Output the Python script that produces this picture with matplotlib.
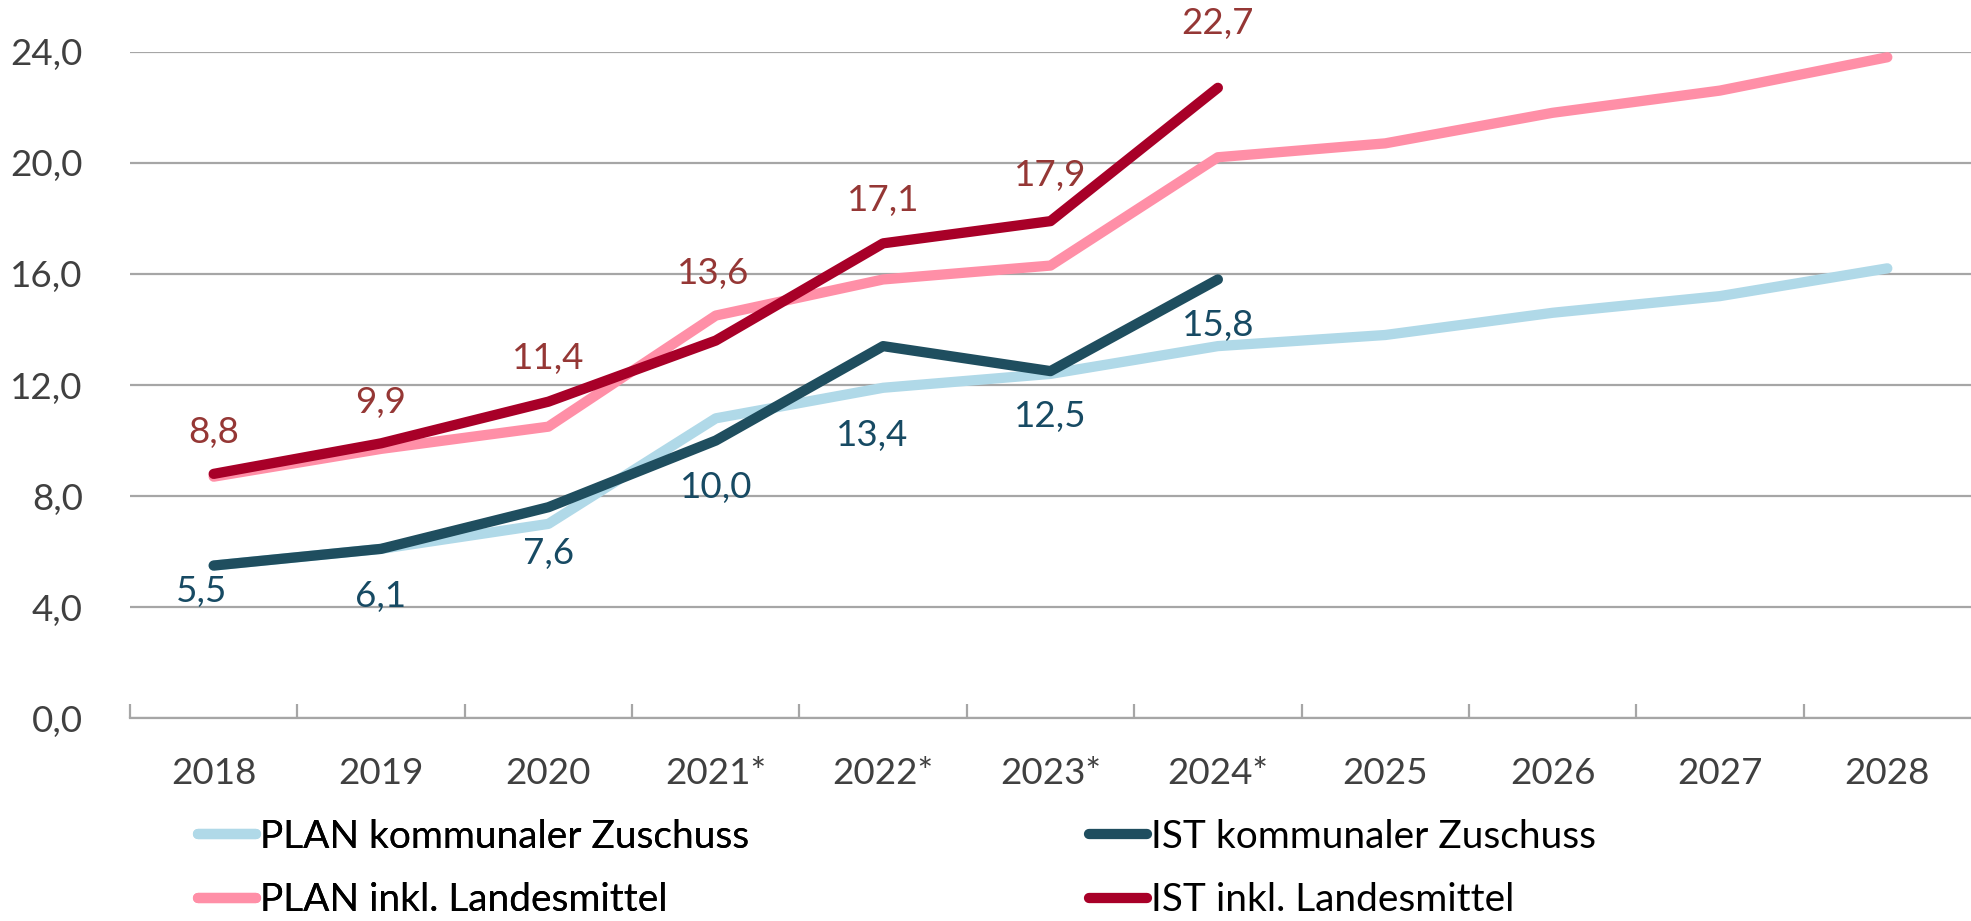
import matplotlib
matplotlib.use("Agg")
import matplotlib.pyplot as plt
from matplotlib.lines import Line2D

# ---------------- data ----------------
years = ["2018", "2019", "2020", "2021*", "2022*", "2023*", "2024*", "2025", "2026", "2027", "2028"]
plan_kommunal = [5.5, 6.1, 7.0, 10.8, 11.9, 12.4, 13.4, 13.8, 14.6, 15.2, 16.2]
plan_landes = [8.7, 9.7, 10.5, 14.5, 15.8, 16.3, 20.2, 20.7, 21.8, 22.6, 23.8]
ist_kommunal = [5.5, 6.1, 7.6, 10.0, 13.4, 12.5, 15.8]
ist_landes = [8.8, 9.9, 11.4, 13.6, 17.1, 17.9, 22.7]
yticks = [0, 4, 8, 12, 16, 20, 24]

series_names = ["PLAN kommunaler Zuschuss", "PLAN inkl. Landesmittel",
                "IST kommunaler Zuschuss", "IST inkl. Landesmittel"]

# ---------------- styles ----------------
C_PLAN_K = "#b0d9e8"
C_PLAN_L = "#ff8fa7"
C_IST_K = "#1f4e5f"
C_IST_L = "#a80028"
C_LAB_RED = "#953735"
C_LAB_BLUE = "#174a63"
FONT = "Lato"
LW = 7.4

# label offsets in points (dx, dy)
red_off = [(0, 30), (0, 29.5), (0, 31), (-2, 48), (0, 31), (0, 33), (0, 46)]
blue_off = [(-9, -19), (0, -34.5), (0, -33), (0, -34), (-8, -64), (0, -33), (0, -33)]

plt.rcParams["font.family"] = [FONT, "DejaVu Sans"]

W, H = 1971, 921
fig = plt.figure(figsize=(W / 100, H / 100), dpi=100)
ax = fig.add_axes([130 / W, (H - 718.3) / H, (W - 130) / W, 666.6 / H])

x_all = list(range(len(years)))
x_ist = list(range(len(ist_kommunal)))

ax.plot(x_all, plan_kommunal, color=C_PLAN_K, lw=LW, solid_capstyle="round",
        solid_joinstyle="round", label=series_names[0], zorder=3)
ax.plot(x_all, plan_landes, color=C_PLAN_L, lw=LW, solid_capstyle="round",
        solid_joinstyle="round", label=series_names[1], zorder=3)
ax.plot(x_ist, ist_kommunal, color=C_IST_K, lw=LW, solid_capstyle="round",
        solid_joinstyle="round", label=series_names[2], zorder=4)
ax.plot(x_ist, ist_landes, color=C_IST_L, lw=LW, solid_capstyle="round",
        solid_joinstyle="round", label=series_names[3], zorder=4)

def fmt(v):
    return f"{v:.1f}".replace(".", ",")

for xi, v, (dx, dy) in zip(x_ist, ist_landes, red_off):
    ax.annotate(fmt(v), (xi, v), xytext=(dx, dy), textcoords="offset points",
                ha="center", va="center", fontsize=26.5, color=C_LAB_RED,
                annotation_clip=False, zorder=5)
for xi, v, (dx, dy) in zip(x_ist, ist_kommunal, blue_off):
    ax.annotate(fmt(v), (xi, v), xytext=(dx, dy), textcoords="offset points",
                ha="center", va="center", fontsize=26.5, color=C_LAB_BLUE,
                annotation_clip=False, zorder=5)

ax.set_xlim(-0.5, len(years) - 0.5)
ax.set_ylim(0, 24)
ax.set_yticks(yticks)
ax.set_yticklabels([fmt(t) for t in yticks])
ax.yaxis.grid(True, color="#a6a6a6", lw=1.6, zorder=1)
ax.set_axisbelow(True)

ax.set_xticks(x_all)
ax.set_xticklabels(years)
ax.set_xticks([i - 0.5 for i in x_all], minor=True)
ax.tick_params(axis="x", which="major", length=0, pad=28, labelsize=26.5, labelcolor="#404040")
ax.tick_params(axis="x", which="minor", length=10, width=1.6, direction="in", color="#a6a6a6")
ax.tick_params(axis="y", length=0, pad=34, labelsize=26.5, labelcolor="#404040")

for s in ["top", "right", "left"]:
    ax.spines[s].set_visible(False)
ax.spines["bottom"].set_color("#a6a6a6")
ax.spines["bottom"].set_linewidth(1.6)

handles, labels = ax.get_legend_handles_labels()
hd = {l: h for h, l in zip(handles, labels)}

def mk(name):
    h = hd[name]
    return Line2D([], [], color=h.get_color(), lw=LW, solid_capstyle="round")

leg_kw = dict(loc="upper left", frameon=False, fontsize=28, handlelength=1.5,
              handletextpad=0.1, borderpad=0, borderaxespad=0, labelspacing=0.70,
              labelcolor="#000000")
leg1 = fig.legend([mk(series_names[0]), mk(series_names[1])], series_names[:2],
                  bbox_to_anchor=(198 / W, 1 - 819 / H), **leg_kw)
leg2 = fig.legend([mk(series_names[2]), mk(series_names[3])], series_names[2:],
                  bbox_to_anchor=(1089 / W, 1 - 819 / H), **leg_kw)
fig.add_artist(leg1)

fig.savefig("out.png", dpi=100)
